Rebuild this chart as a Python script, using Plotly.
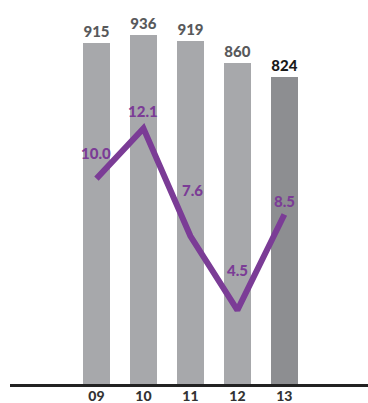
import plotly.graph_objects as go

# Fiscal years, headcount bars and growth-rate line
years = ["09", "10", "11", "12", "13"]
headcount = [915, 936, 919, 860, 824]
rate = [10.0, 12.1, 7.6, 4.5, 8.5]

bar_colors = ["#a7a8ab", "#a7a8ab", "#a7a8ab", "#a7a8ab", "#8d8e91"]
bar_label_colors = ["#58595b", "#58595b", "#58595b", "#58595b", "#1a1a1a"]
purple = "#7b3c96"
font_family = "Lato"
heavy = 900

xpos = list(range(len(years)))

fig = go.Figure()

fig.add_trace(go.Bar(
    x=xpos, y=headcount, width=0.574,
    marker=dict(color=bar_colors, line=dict(width=0)),
    text=[str(v) for v in headcount], textposition="outside",
    textfont=dict(family=font_family, size=15, color=bar_label_colors, weight=heavy),
    cliponaxis=False, hoverinfo="skip",
))

fig.add_trace(go.Scatter(
    x=xpos, y=rate, yaxis="y2", mode="lines",
    line=dict(color=purple, width=6), hoverinfo="skip",
))

# Rate labels, offset from each line vertex
label_shift = [(0, 26), (0, 17), (2, 46), (0, 40), (0, 13)]
for xi, v, (dx, dy) in zip(xpos, rate, label_shift):
    fig.add_annotation(
        x=xi, y=v, xref="x", yref="y2", text=f"{v:.1f}", showarrow=False,
        xshift=dx, yshift=dy,
        font=dict(family=font_family, size=15, color=purple, weight=heavy),
    )

fig.update_layout(
    width=368, height=403,
    margin=dict(l=10, r=0, t=0, b=19),
    paper_bgcolor="white", plot_bgcolor="white",
    showlegend=False, bargap=0,
    xaxis=dict(
        range=[-1.84, 5.78], tickmode="array", tickvals=xpos, ticktext=years,
        showgrid=False, zeroline=False, automargin=False,
        showline=True, linecolor="#222222", linewidth=3,
        ticks="", ticklabelstandoff=-3,
        tickfont=dict(family=font_family, size=14, color="#333333", weight=heavy),
    ),
    yaxis=dict(range=[0, 1029.5], visible=False, showgrid=False,
               zeroline=False, automargin=False),
    yaxis2=dict(range=[1.41, 17.47], overlaying="y", visible=False,
                showgrid=False, zeroline=False, automargin=False),
)

fig.write_html("out.html")
